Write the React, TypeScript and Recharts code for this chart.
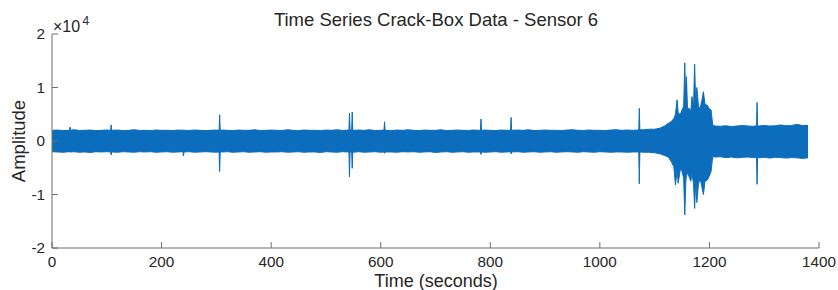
import React from "react";
import { ComposedChart, Area, XAxis, YAxis, Customized } from "recharts";

// time (s), upper and lower envelope of the signal
const times = [
  0, 10, 20, 32, 33, 34, 40, 50, 60, 70, 80, 90, 100,
  107, 108, 109, 120, 130, 140, 150, 160, 170, 180, 190, 200, 210, 220, 230, 239, 240, 241,
  250, 260, 270, 280, 290, 300, 305, 306, 307,
  310, 320, 330, 340, 350, 360, 370, 380, 390, 400, 410, 420, 430, 440, 450, 460, 470, 480, 490, 500, 510, 520, 530, 540,
  542, 543, 544, 547, 548, 549,
  560, 570, 580, 590, 600, 606, 607, 608, 620, 630, 640, 650, 660, 670, 680, 690, 700, 710, 720, 730, 740, 750, 760, 770, 780,
  782, 783, 784, 790, 800, 810, 820, 830, 837, 838, 839,
  850, 860, 870, 880, 890, 900, 910, 920, 930, 940, 950, 960, 970, 980, 990, 1000, 1010, 1020, 1030, 1040, 1050, 1060, 1070,
  1071, 1072, 1073, 1080, 1090, 1100,
  1110, 1118, 1125, 1130, 1135, 1138, 1141, 1143, 1147, 1150, 1153, 1155, 1157, 1158, 1160, 1163, 1166, 1168, 1171, 1173, 1175, 1177, 1180, 1183, 1186, 1189, 1192, 1196, 1200, 1203, 1206,
  1210, 1220, 1230, 1240, 1250, 1260, 1270, 1280, 1286, 1287, 1288, 1290, 1300, 1310, 1320, 1330, 1340, 1350, 1360, 1370, 1380,
];

const upper = [
  2000, 2050, 1950, 2000, 2600, 2000, 2100, 1980, 2000, 2050, 1950, 2000, 2050,
  2000, 3000, 2000, 2050, 1950, 2000, 2100, 1980, 2000, 1950, 2050, 2000, 2000, 1950, 2050, 2000, 2100, 2000,
  1980, 2050, 2000, 1950, 2000, 2050, 2000, 4900, 2000,
  2050, 2000, 1950, 2050, 2000, 2000, 2100, 1950, 2000, 2050, 2000, 1980, 2100, 2000, 1950, 2050, 2000, 2000, 1950, 2050, 2000, 2100, 1980, 2050,
  2000, 5200, 2100, 2000, 5400, 2000,
  2050, 2000, 2100, 1950, 2000, 2050, 3600, 2000, 1950, 2050, 2000, 2100, 2000, 1950, 2050, 2000, 2000, 2100, 1950, 2000, 2050, 2000, 1980, 2050, 2000,
  2000, 4100, 2000, 2050, 2000, 1950, 2050, 2000, 2000, 4400, 2000,
  2050, 2000, 2100, 1950, 2000, 2050, 2000, 2000, 1950, 2050, 2100, 2000, 1980, 2050, 2000, 2000, 1950, 2050, 2100, 2000, 2050, 2000, 2050,
  2050, 6100, 2100, 2100, 2200, 2200,
  2400, 2800, 3300, 3600, 4200, 5000, 7700, 5200, 5000, 5800, 6500, 14600, 7000, 12000, 6000, 6100, 5500, 8300, 6500, 14400, 7000, 10000, 6500, 6100, 7500, 9200, 6800, 6700, 6000, 5800, 3000,
  2800, 2750, 2850, 2700, 2800, 2900, 2800, 2750, 2850, 7200, 2850, 2800, 2900, 2800, 2850, 3000, 2850, 2900, 3100, 2900, 2900,
];

const lower = [
  -2000, -2050, -2100, -2000, -2100, -2050, -2000, -2100, -2050, -2150, -2000, -2050, -2000,
  -2050, -2600, -2050, -2100, -2000, -2050, -2100, -2000, -2050, -2000, -2100, -2050, -2000, -2100, -2050, -2000, -2800, -2050,
  -2000, -2100, -2050, -2000, -2050, -2100, -2050, -5700, -2050,
  -2050, -2000, -2100, -2050, -2000, -2100, -2050, -2000, -2100, -2050, -2050, -2000, -2100, -2050, -2000, -2100, -2050, -2050, -2150, -2000, -2050, -2100, -2000, -2050,
  -2050, -6700, -2100, -2050, -5100, -2100,
  -2000, -2100, -2050, -2000, -2100, -2050, -2300, -2050, -2050, -2100, -2000, -2050, -2000, -2100, -2050, -2000, -2150, -2050, -2000, -2100, -2050, -2000, -2100, -2050, -2050,
  -2050, -2500, -2050, -2100, -2050, -2000, -2100, -2050, -2000, -2400, -2050,
  -2000, -2100, -2050, -2000, -2100, -2050, -2000, -2100, -2050, -2000, -2050, -2100, -2000, -2050, -2100, -2000, -2050, -2100, -2050, -2050, -2100, -2050, -2050,
  -2050, -8000, -2050, -2100, -2100, -2200,
  -2400, -2700, -3000, -3800, -4800, -8200, -5500, -7900, -5200, -5700, -7000, -13800, -7500, -6500, -6000, -6700, -7500, -6000, -8000, -12600, -7500, -11500, -8000, -7000, -8500, -10000, -7500, -7300, -6500, -5700, -2900,
  -3000, -2950, -3100, -3000, -3150, -3050, -3000, -3100, -3050, -8100, -3000, -3150, -3050, -3200, -3050, -3100, -3200, -3100, -3150, -3250, -3150,
];

const xTicks = [0, 200, 400, 600, 800, 1000, 1200, 1400];
const yTicks = [-20000, -10000, 0, 10000, 20000];

const font = "'Liberation Sans', Arial, Helvetica, sans-serif";
const axisGray = "#6e6e6e";
const textColor = "#262626";
const lineBlue = "#0b6dbb";

const data = times.map((t, i) => ({ t, amp: [lower[i], upper[i]] }));

function Texts() {
  return (
    <g fontFamily={font} fill={textColor}>
      <text x={436} y={26} fontSize={18.5} textAnchor="middle">
        Time Series Crack-Box Data - Sensor 6
      </text>
      <text x={436} y={286.5} fontSize={18} textAnchor="middle">
        Time (seconds)
      </text>
      <text x={25} y={141} fontSize={18.5} textAnchor="middle" transform="rotate(-90 25 141)">
        Amplitude
      </text>
      <text x={53} y={31.5} fontSize={16}>
        ×10
      </text>
      <text x={82.5} y={25} fontSize={12}>
        4
      </text>
    </g>
  );
}

export default function App() {
  return (
    <div style={{ position: "fixed", left: 0, top: 0, background: "#fff" }}>
      <ComposedChart
        width={838}
        height={290}
        data={data}
        margin={{ top: 34, right: 19, bottom: 0, left: 0 }}
      >
        <XAxis
          xAxisId="b"
          dataKey="t"
          type="number"
          domain={[0, 1400]}
          ticks={xTicks}
          height={42}
          stroke={axisGray}
          tickSize={-6}
          tickMargin={14.3}
          tick={{ fontSize: 15.3, fill: textColor, fontFamily: font }}
        />
        <XAxis
          xAxisId="t"
          orientation="top"
          dataKey="t"
          type="number"
          domain={[0, 1400]}
          ticks={xTicks}
          height={0}
          stroke={axisGray}
          tickSize={-6}
          tickFormatter={() => ""}
        />
        <YAxis
          yAxisId="l"
          type="number"
          domain={[-20000, 20000]}
          ticks={yTicks}
          width={52}
          stroke={axisGray}
          tickSize={-6}
          tickMargin={13}
          tickFormatter={(v: number) => String(v / 10000)}
          tick={{ fontSize: 15.3, fill: textColor, fontFamily: font }}
        />
        <YAxis
          yAxisId="r"
          orientation="right"
          type="number"
          domain={[-20000, 20000]}
          ticks={yTicks}
          width={0}
          stroke={axisGray}
          tickSize={-6}
          tickFormatter={() => ""}
        />
        <Area
          xAxisId="b"
          yAxisId="l"
          type="linear"
          dataKey="amp"
          stroke={lineBlue}
          strokeWidth={1}
          fill={lineBlue}
          fillOpacity={1}
          isAnimationActive={false}
          dot={false}
          activeDot={false}
        />
        <Customized component={Texts} />
      </ComposedChart>
    </div>
  );
}
